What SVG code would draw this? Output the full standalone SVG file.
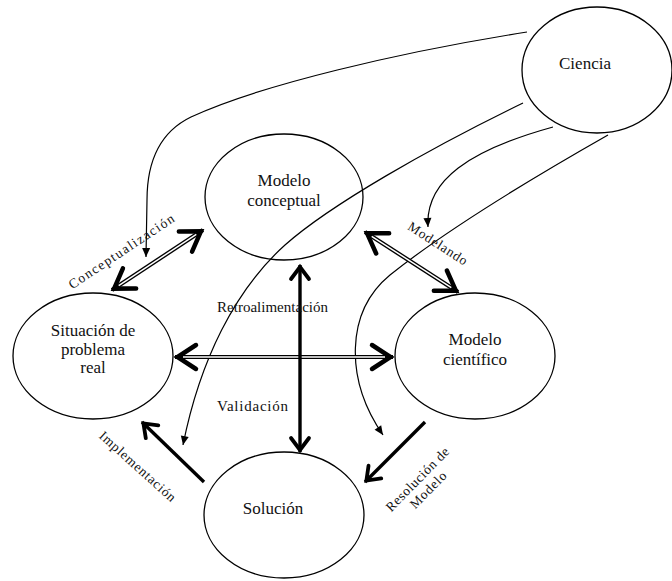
<svg xmlns="http://www.w3.org/2000/svg" width="672" height="581" viewBox="0 0 672 581">
<style>
.node ellipse{fill:#fff;stroke:#000;stroke-width:1.3}
.nt{font-family:"Liberation Serif","DejaVu Serif",serif;font-size:17px;fill:#111;text-anchor:middle}
.lbl{font-family:"Liberation Serif","DejaVu Serif",serif;font-size:13.5px;fill:#111;text-anchor:middle}
.thin{fill:none;stroke:#000;stroke-width:1.2}
.dblo{stroke:#000;stroke-width:4.2;fill:none}
.dbli{stroke:#fff;stroke-width:1.5;fill:none}
.thick{stroke:#000;stroke-width:3.4;fill:none}
</style>
<defs>
<marker id="chevL" markerUnits="userSpaceOnUse" viewBox="-28 -16 34 32" markerWidth="34" markerHeight="32" refX="0" refY="0" orient="auto-start-reverse">
<path d="M-21,-12 L-2.5,0 L-21,12" fill="none" stroke="#000" stroke-width="4.5" stroke-linecap="round" stroke-linejoin="miter"/>
</marker>
<marker id="chevS" markerUnits="userSpaceOnUse" viewBox="-20 -12 26 24" markerWidth="26" markerHeight="24" refX="0" refY="0" orient="auto-start-reverse">
<path d="M-14,-9 L-2,0 L-14,9" fill="none" stroke="#000" stroke-width="3.8" stroke-linecap="round" stroke-linejoin="miter"/>
</marker>
<marker id="tri" markerUnits="userSpaceOnUse" viewBox="-10 -5 11 10" markerWidth="11" markerHeight="10" refX="0" refY="0" orient="auto">
<path d="M-9,-4 L0,0 L-9,4 Z" fill="#000"/>
</marker>
</defs>

<g id="n-ciencia" class="node">
<ellipse cx="597" cy="70" rx="75" ry="63"/>
<text class="nt" x="585" y="69">Ciencia</text>
</g>
<g id="n-conceptual" class="node">
<ellipse cx="284" cy="197" rx="79" ry="63"/>
<text class="nt" x="284" y="186">Modelo</text>
<text class="nt" x="284" y="206">conceptual</text>
</g>
<g id="n-situacion" class="node">
<ellipse cx="93" cy="356" rx="80" ry="63"/>
<text class="nt" x="93" y="336">Situación de</text>
<text class="nt" x="93" y="355">problema</text>
<text class="nt" x="93" y="373">real</text>
</g>
<g id="n-cientifico" class="node">
<ellipse cx="475" cy="356" rx="80" ry="63"/>
<text class="nt" x="475" y="345">Modelo</text>
<text class="nt" x="475" y="365">científico</text>
</g>
<g id="n-solucion" class="node">
<ellipse cx="284" cy="515" rx="80" ry="63"/>
<text class="nt" x="273" y="514">Solución</text>
</g>

<g id="connectors">
<path class="thin" d="M527,32 C400,52 260,85 191,117 C160,132 147,160 147,200 L146,257" marker-end="url(#tri)"/>
<path class="thin" d="M523,103 C430,148 330,205 285,245 C235,290 200,360 183,445" marker-end="url(#tri)"/>
<path class="thin" d="M553,127 C470,150 425,180 428,227" marker-end="url(#tri)"/>
<path class="thin" d="M608,135 C520,185 440,235 390,275 C345,312 345,380 383,435" marker-end="url(#tri)"/>

<line class="dblo" x1="112" y1="290" x2="203" y2="230" marker-start="url(#chevL)" marker-end="url(#chevL)"/>
<line class="dbli" x1="118.7" y1="285.6" x2="196.3" y2="234.4"/>
<line class="dblo" x1="365" y1="232" x2="458" y2="292" marker-start="url(#chevL)" marker-end="url(#chevL)"/>
<line class="dbli" x1="371.7" y1="236.3" x2="451.3" y2="287.7"/>
<line class="dblo" x1="175" y1="357" x2="393" y2="357" marker-start="url(#chevL)" marker-end="url(#chevL)"/>
<line class="dbli" x1="183" y1="357" x2="385" y2="357"/>

<line class="thick" x1="300" y1="265" x2="300" y2="452" marker-start="url(#chevS)" marker-end="url(#chevS)"/>
<line class="thick" x1="204" y1="482" x2="142" y2="422" marker-end="url(#chevS)"/>
<line class="thick" x1="425" y1="422" x2="365" y2="482" marker-end="url(#chevS)"/>
</g>

<g id="labels">
<text class="lbl" transform="translate(121,251) rotate(-33.6)" x="0" y="5" textLength="124" lengthAdjust="spacing">Conceptualización</text>
<text class="lbl" transform="translate(438,243) rotate(33)" x="0" y="5" textLength="68" lengthAdjust="spacing">Modelando</text>
<text class="lbl" transform="translate(138,466) rotate(42)" x="0" y="5" textLength="98" lengthAdjust="spacing">Implementación</text>
<g transform="translate(417,479) rotate(-45.5)">
<text class="lbl" x="0" y="5" textLength="84" lengthAdjust="spacing">Resolución de</text>
<text class="lbl" x="0" y="20" textLength="46" lengthAdjust="spacing">Modelo</text>
</g>
<text class="lbl" style="font-size:15px" x="272.5" y="312" textLength="111" lengthAdjust="spacing">Retroalimentación</text>
<text class="lbl" style="font-size:15px" x="252.5" y="411" textLength="71" lengthAdjust="spacing">Validación</text>
</g>
</svg>
